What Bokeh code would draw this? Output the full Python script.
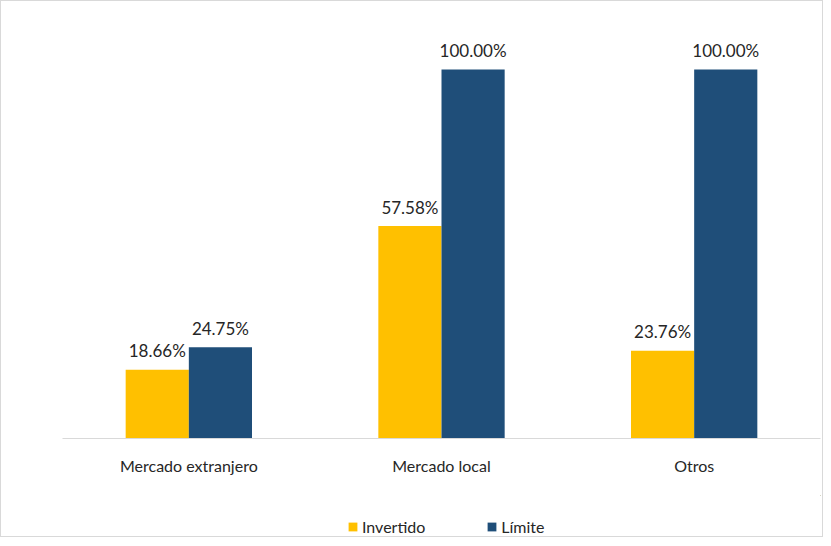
from bokeh.plotting import figure
from bokeh.models import ColumnDataSource, Range1d, FactorRange, Legend, LegendItem
from bokeh.layouts import column
from bokeh.transform import dodge
from bokeh.core.properties import value
from bokeh.embed import file_html
from bokeh.resources import INLINE

categories = ["Mercado extranjero", "Mercado local", "Otros"]
invertido = [18.66, 57.58, 23.76]
limite = [24.75, 100.00, 100.00]
series_names = ["Invertido", "Límite"]

FONT = "Lato"
YELLOW = "#FFC000"
BLUE = "#1F4E79"
TEXT = "#262626"
BORDER = "1px solid #d9d9d9"

src = ColumnDataSource(dict(
    cat=categories,
    inv=invertido,
    lim=limite,
    inv_lbl=[f"{v:.2f}%" for v in invertido],
    lim_lbl=[f"{v:.2f}%" for v in limite],
))

p = figure(width=823, height=495, x_range=FactorRange(*categories, range_padding=0),
           y_range=Range1d(0, 113.3), output_backend="svg", toolbar_location=None,
           min_border_left=61, min_border_right=4, min_border_top=19, min_border_bottom=58)
p.outline_line_color = None
p.xgrid.grid_line_color = None
p.ygrid.grid_line_color = None
p.yaxis.visible = False
p.styles = {"border-left": BORDER, "border-top": BORDER, "border-right": BORDER,
            "box-sizing": "border-box"}

p.vbar(x=dodge("cat", -0.125, range=p.x_range), top="inv", width=0.25, source=src,
       fill_color=YELLOW, line_color=None)
p.vbar(x=dodge("cat", 0.125, range=p.x_range), top="lim", width=0.25, source=src,
       fill_color=BLUE, line_color=None)

for xoff, col, lbl in [(-0.125, "inv", "inv_lbl"), (0.125, "lim", "lim_lbl")]:
    p.text(x=dodge("cat", xoff, range=p.x_range), y=col, text=lbl, source=src,
           text_align="center", text_baseline="alphabetic", y_offset=-19,
           text_font=value(FONT), text_font_size="17px", text_color=TEXT)

ax = p.xaxis[0]
ax.axis_line_color = "#d9d9d9"
ax.axis_line_width = 1
ax.major_tick_line_color = None
ax.minor_tick_line_color = None
ax.major_tick_out = 0
ax.major_tick_in = 0
ax.major_label_standoff = 17
ax.major_label_text_font = FONT
ax.major_label_text_font_size = "16px"
ax.major_label_text_color = TEXT

# legend strip (its glyphs use the data but lie outside the strip's visible range)
lf = figure(width=823, height=42, x_range=Range1d(0, 1), y_range=Range1d(0, 1),
            output_backend="svg", toolbar_location=None, x_axis_type=None, y_axis_type=None,
            min_border_left=0, min_border_right=0, min_border_top=0, min_border_bottom=0)
lf.outline_line_color = None
lf.xgrid.grid_line_color = None
lf.ygrid.grid_line_color = None
lf.styles = {"border-left": BORDER, "border-bottom": BORDER, "border-right": BORDER,
             "box-sizing": "border-box"}
e1 = lf.vbar(x=invertido, top=invertido, bottom=invertido, width=0.1,
             fill_color=YELLOW, line_color=None)
e2 = lf.vbar(x=limite, top=limite, bottom=limite, width=0.1,
             fill_color=BLUE, line_color=None)

legend = Legend(items=[LegendItem(label=series_names[0], renderers=[e1]),
                       LegendItem(label=series_names[1], renderers=[e2])],
                orientation="horizontal", location=(285, 1),
                glyph_width=11, glyph_height=11, label_standoff=4, spacing=61,
                padding=0, margin=0, border_line_color=None, background_fill_alpha=0,
                label_text_font=FONT, label_text_font_size="16px", label_text_color=TEXT)
lf.add_layout(legend, "center")

layout = column(p, lf, spacing=0)
open("out.html", "w").write(file_html(layout, INLINE))
